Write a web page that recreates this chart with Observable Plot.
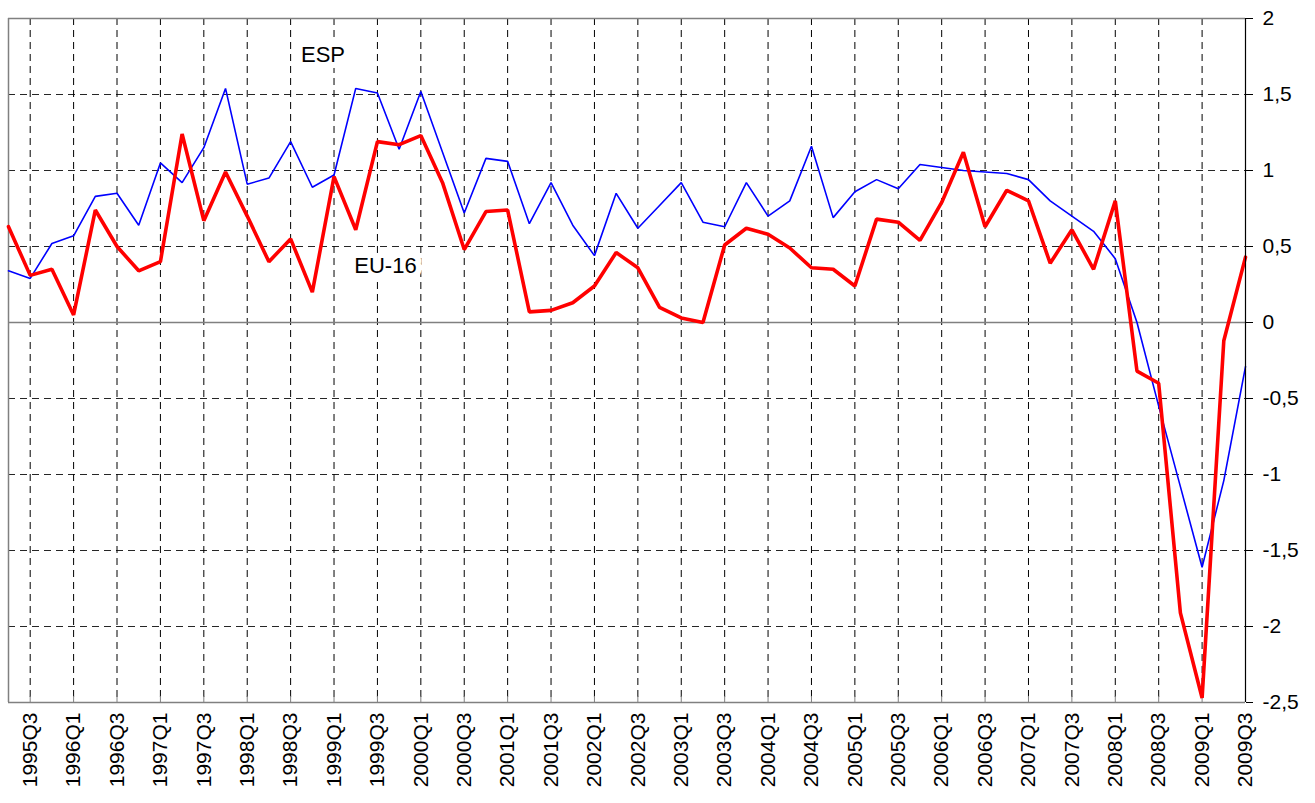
<!DOCTYPE html>
<html><head><meta charset="utf-8">
<script src="https://cdn.jsdelivr.net/npm/d3@7"></script>
<script src="https://cdn.jsdelivr.net/npm/@observablehq/plot@0.6"></script>
<style>body{margin:0;background:#fff;} svg{display:block}</style>
</head><body><div id="chart"></div>
<script>
const quarters = [
  "1995Q2","1995Q3","1995Q4","1996Q1","1996Q2","1996Q3","1996Q4","1997Q1","1997Q2","1997Q3",
  "1997Q4","1998Q1","1998Q2","1998Q3","1998Q4","1999Q1","1999Q2","1999Q3","1999Q4","2000Q1",
  "2000Q2","2000Q3","2000Q4","2001Q1","2001Q2","2001Q3","2001Q4","2002Q1","2002Q2","2002Q3",
  "2002Q4","2003Q1","2003Q2","2003Q3","2003Q4","2004Q1","2004Q2","2004Q3","2004Q4","2005Q1",
  "2005Q2","2005Q3","2005Q4","2006Q1","2006Q2","2006Q3","2006Q4","2007Q1","2007Q2","2007Q3",
  "2007Q4","2008Q1","2008Q2","2008Q3","2008Q4","2009Q1","2009Q2","2009Q3"
];
const esp = [
  0.34, 0.29, 0.52, 0.57, 0.83, 0.85, 0.64, 1.05, 0.92, 1.15,
  1.54, 0.91, 0.95, 1.19, 0.89, 0.97, 1.54, 1.51, 1.14, 1.52,
  1.12, 0.72, 1.08, 1.06, 0.65, 0.92, 0.64, 0.44, 0.85, 0.62,
  0.77, 0.92, 0.66, 0.63, 0.92, 0.70, 0.80, 1.16, 0.69, 0.86,
  0.94, 0.88, 1.04, 1.02, 1.00, 0.99, 0.98, 0.94, 0.80, 0.70,
  0.60, 0.42, 0.00, -0.55, -1.08, -1.61, -1.04, -0.29
];
const eu16 = [
  0.63, 0.31, 0.35, 0.05, 0.74, 0.50, 0.34, 0.40, 1.24, 0.67,
  0.99, 0.70, 0.40, 0.55, 0.20, 0.96, 0.61, 1.19, 1.17, 1.23,
  0.92, 0.48, 0.73, 0.74, 0.07, 0.08, 0.13, 0.24, 0.46, 0.36,
  0.10, 0.03, 0.00, 0.51, 0.62, 0.58, 0.49, 0.36, 0.35, 0.24,
  0.68, 0.66, 0.54, 0.79, 1.12, 0.63, 0.87, 0.80, 0.39, 0.61,
  0.35, 0.80, -0.32, -0.40, -1.91, -2.47, -0.12, 0.43
];
const tickQuarters = quarters.filter((q, i) => i % 2 === 1);
const yTicks = [-2.5, -2, -1.5, -1, -0.5, 0, 0.5, 1, 1.5, 2];
const seriesNames = ["ESP", "EU-16"];

const espRows = quarters.map((q, i) => ({q, v: esp[i]}));
const euRows = quarters.map((q, i) => ({q, v: eu16[i]}));
const fmt = d => String(d).replace(".", ",");
const yMin = yTicks[0], yMax = yTicks[yTicks.length - 1];

const chart = Plot.plot({
  width: 1315, height: 803,
  marginLeft: 8, marginRight: 70, marginTop: 18, marginBottom: 101,
  style: {fontFamily: "Arial, 'Liberation Sans', sans-serif", fontSize: "21px", background: "#fff", color: "#000"},
  x: {type: "point", domain: quarters, padding: 0, label: null},
  y: {domain: [yMin, yMax], label: null},
  marks: [
    Plot.ruleY(yTicks.filter(d => d !== 0 && d !== yMin && d !== yMax), {stroke: "#000", strokeWidth: 1, strokeDasharray: "7,5", strokeOpacity: 0.85}),
    Plot.ruleX(tickQuarters.slice(0, -1), {stroke: "#000", strokeWidth: 1, strokeDasharray: "7,5"}),
    Plot.ruleY([yMax, yMin, 0], {stroke: "#808080", strokeWidth: 1.5}),
    Plot.ruleX([quarters[0]], {stroke: "#808080", strokeWidth: 1.5}),
    Plot.ruleX(tickQuarters, {y1: yMin, y2: yMin + 0.04, stroke: "#808080", strokeWidth: 1}),
    Plot.text([seriesNames[0]], {x: () => "1999Q1", y: () => 1.76, text: d => d, dx: -11, fontSize: 22, fill: "#000", stroke: "#fff", strokeWidth: 12}),
    Plot.text([seriesNames[1]], {x: () => "1999Q3", y: () => 0.375, text: d => d, dx: 8, fontSize: 22, fill: "#000", stroke: "#fff", strokeWidth: 12}),
    Plot.line(espRows, {x: "q", y: "v", stroke: "#0000ff", strokeWidth: 1.6, strokeLinejoin: "miter"}),
    Plot.line(euRows, {x: "q", y: "v", stroke: "#ff0000", strokeWidth: 3.6, strokeLinejoin: "miter"}),
    Plot.ruleX([quarters[quarters.length - 1]], {stroke: "#000", strokeWidth: 1.2}),
    Plot.axisY({anchor: "right", ticks: yTicks, tickFormat: fmt, tickSize: 7, tickPadding: 10, fontSize: 21, label: null}),
    Plot.axisX({ticks: tickQuarters, tickRotate: -90, tickSize: 0, tickPadding: 10, fontSize: 21, label: null})
  ]
});
document.getElementById("chart").appendChild(chart);
</script>
</body></html>
